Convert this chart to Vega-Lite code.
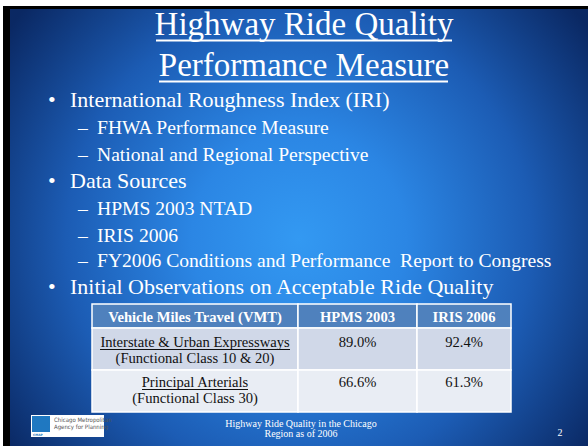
{
  "$schema": "https://vega.github.io/schema/vega-lite/v6.json",
  "width": 588,
  "height": 446,
  "padding": 0,
  "autosize": {"type": "fit", "contains": "padding"},
  "background": "white",
  "config": {"view": {"stroke": null}},
  "resolve": {"scale": {"fill": "independent"}},
  "datasets": {
    "panels": [
      {"part": "border", "x": 3, "x2": 588, "y": 6, "y2": 446},
      {"part": "slide", "x": 10, "x2": 588, "y": 9, "y2": 446}
    ],
    "titles": [
      {"t": "Highway Ride Quality", "x": 304, "y": 35},
      {"t": "Performance Measure", "x": 304, "y": 76}
    ],
    "lines": [
      {"kind": "title", "x": 156, "x2": 452, "y": 40.5},
      {"kind": "title", "x": 159, "x2": 448, "y": 81.5},
      {"kind": "cell", "x": 100, "x2": 290, "y": 349.5},
      {"kind": "cell", "x": 142, "x2": 248, "y": 389.5}
    ],
    "outline": [
      {"level": 1, "t": "•", "x": 48, "y": 107},
      {"level": 1, "t": "International Roughness Index (IRI)", "x": 70, "y": 107},
      {"level": 2, "t": "–", "x": 78, "y": 134},
      {"level": 2, "t": "FHWA Performance Measure", "x": 97, "y": 134},
      {"level": 2, "t": "–", "x": 78, "y": 161},
      {"level": 2, "t": "National and Regional Perspective", "x": 97, "y": 161},
      {"level": 1, "t": "•", "x": 48, "y": 188},
      {"level": 1, "t": "Data Sources", "x": 70, "y": 188},
      {"level": 2, "t": "–", "x": 78, "y": 215},
      {"level": 2, "t": "HPMS 2003 NTAD", "x": 97, "y": 215},
      {"level": 2, "t": "–", "x": 78, "y": 242},
      {"level": 2, "t": "IRIS 2006", "x": 97, "y": 242},
      {"level": 2, "t": "–", "x": 78, "y": 267},
      {"level": 2, "t": "FY2006 Conditions and Performance\u00a0 Report to Congress", "x": 97, "y": 267},
      {"level": 1, "t": "•", "x": 48, "y": 294},
      {"level": 1, "t": "Initial Observations on Acceptable Ride Quality", "x": 70, "y": 294}
    ],
    "cells": [
      {"row": "head", "x": 92, "x2": 298, "y": 304, "y2": 328},
      {"row": "head", "x": 298, "x2": 417, "y": 304, "y2": 328},
      {"row": "head", "x": 417, "x2": 511, "y": 304, "y2": 328},
      {"row": "r1", "x": 92, "x2": 298, "y": 328, "y2": 370},
      {"row": "r1", "x": 298, "x2": 417, "y": 328, "y2": 370},
      {"row": "r1", "x": 417, "x2": 511, "y": 328, "y2": 370},
      {"row": "r2", "x": 92, "x2": 298, "y": 370, "y2": 412},
      {"row": "r2", "x": 298, "x2": 417, "y": 370, "y2": 412},
      {"row": "r2", "x": 417, "x2": 511, "y": 370, "y2": 412}
    ],
    "celltext": [
      {"row": "head", "t": "Vehicle Miles Travel (VMT)", "x": 195, "y": 322},
      {"row": "head", "t": "HPMS 2003", "x": 357.5, "y": 322},
      {"row": "head", "t": "IRIS 2006", "x": 464, "y": 322},
      {"row": "r1", "t": "Interstate & Urban Expressways", "x": 195, "y": 347},
      {"row": "r1", "t": "(Functional Class 10 & 20)", "x": 195, "y": 363},
      {"row": "r1", "t": "89.0%", "x": 357.5, "y": 347},
      {"row": "r1", "t": "92.4%", "x": 464, "y": 347},
      {"row": "r2", "t": "Principal Arterials", "x": 195, "y": 387},
      {"row": "r2", "t": "(Functional Class 30)", "x": 195, "y": 403},
      {"row": "r2", "t": "66.6%", "x": 357.5, "y": 387},
      {"row": "r2", "t": "61.3%", "x": 464, "y": 387}
    ],
    "footer": [
      {"part": "caption", "t": "Highway Ride Quality in the Chicago", "x": 301, "y": 427},
      {"part": "caption", "t": "Region as of 2006", "x": 301, "y": 437},
      {"part": "page", "t": "2", "x": 560, "y": 436}
    ],
    "logo": [
      {"part": "box", "x": 31, "x2": 104, "y": 415, "y2": 437},
      {"part": "mark", "x": 32, "x2": 50, "y": 416, "y2": 432}
    ],
    "logotext": [
      {"part": "name", "t": "Chicago Metropolitan", "x": 54, "y": 422},
      {"part": "name", "t": "Agency for Planning", "x": 54, "y": 429},
      {"part": "abbr", "t": "CMAP", "x": 33, "y": 436}
    ]
  },
  "encoding": {
    "x": {"field": "x", "type": "quantitative", "scale": {"domain": [0, 588], "nice": false, "zero": false}, "axis": null},
    "y": {"field": "y", "type": "quantitative", "scale": {"domain": [0, 446], "nice": false, "zero": false, "reverse": true}, "axis": null}
  },
  "layer": [
    {
      "data": {"name": "panels"},
      "transform": [{"filter": "datum.part == 'border'"}],
      "mark": {"type": "rect", "fill": "#000000"},
      "encoding": {"x2": {"field": "x2"}, "y2": {"field": "y2"}}
    },
    {
      "data": {"name": "panels"},
      "transform": [{"filter": "datum.part == 'slide'"}],
      "mark": {
        "type": "rect",
        "fill": {
          "gradient": "radial",
          "x1": 0.5, "y1": 0.52, "r1": 0,
          "x2": 0.5, "y2": 0.52, "r2": 0.62,
          "stops": [
            {"offset": 0, "color": "#3399f2"},
            {"offset": 0.3, "color": "#2b86e4"},
            {"offset": 0.65, "color": "#1c5cb4"},
            {"offset": 1, "color": "#0a2863"}
          ]
        }
      },
      "encoding": {"x2": {"field": "x2"}, "y2": {"field": "y2"}}
    },
    {
      "data": {"name": "titles"},
      "mark": {"type": "text", "font": "Liberation Serif", "fontSize": 33, "color": "#ffffff", "align": "center", "baseline": "alphabetic"},
      "encoding": {"text": {"field": "t"}}
    },
    {
      "data": {"name": "lines"},
      "transform": [{"filter": "datum.kind == 'title'"}],
      "mark": {"type": "rule", "color": "#ffffff", "strokeWidth": 2},
      "encoding": {"x2": {"field": "x2"}}
    },
    {
      "data": {"name": "outline"},
      "transform": [{"filter": "datum.level == 1"}],
      "mark": {"type": "text", "font": "Liberation Serif", "fontSize": 22, "color": "#ffffff", "align": "left", "baseline": "alphabetic"},
      "encoding": {"text": {"field": "t"}}
    },
    {
      "data": {"name": "outline"},
      "transform": [{"filter": "datum.level == 2"}],
      "mark": {"type": "text", "font": "Liberation Serif", "fontSize": 19.6, "color": "#ffffff", "align": "left", "baseline": "alphabetic"},
      "encoding": {"text": {"field": "t"}}
    },
    {
      "data": {"name": "cells"},
      "mark": {"type": "rect", "stroke": "#ffffff", "strokeWidth": 1.5},
      "encoding": {
        "x2": {"field": "x2"},
        "y2": {"field": "y2"},
        "fill": {"field": "row", "type": "nominal", "scale": {"domain": ["head", "r1", "r2"], "range": ["#4F81BD", "#D0D8E8", "#E9EDF4"]}, "legend": null}
      }
    },
    {
      "data": {"name": "celltext"},
      "transform": [{"filter": "datum.row == 'head'"}],
      "mark": {"type": "text", "font": "Liberation Serif", "fontSize": 14.6, "fontWeight": "bold", "color": "#ffffff", "align": "center", "baseline": "alphabetic"},
      "encoding": {"text": {"field": "t"}}
    },
    {
      "data": {"name": "celltext"},
      "transform": [{"filter": "datum.row != 'head'"}],
      "mark": {"type": "text", "font": "Liberation Serif", "fontSize": 14.6, "color": "#111111", "align": "center", "baseline": "alphabetic"},
      "encoding": {"text": {"field": "t"}}
    },
    {
      "data": {"name": "lines"},
      "transform": [{"filter": "datum.kind == 'cell'"}],
      "mark": {"type": "rule", "color": "#111111", "strokeWidth": 1},
      "encoding": {"x2": {"field": "x2"}}
    },
    {
      "data": {"name": "footer"},
      "transform": [{"filter": "datum.part == 'caption'"}],
      "mark": {"type": "text", "font": "Liberation Serif", "fontSize": 10, "color": "#ffffff", "align": "center", "baseline": "alphabetic"},
      "encoding": {"text": {"field": "t"}}
    },
    {
      "data": {"name": "footer"},
      "transform": [{"filter": "datum.part == 'page'"}],
      "mark": {"type": "text", "font": "Liberation Serif", "fontSize": 10, "color": "#ffffff", "align": "center", "baseline": "alphabetic"},
      "encoding": {"text": {"field": "t"}}
    },
    {
      "data": {"name": "logo"},
      "mark": {"type": "rect"},
      "encoding": {
        "x2": {"field": "x2"},
        "y2": {"field": "y2"},
        "fill": {"field": "part", "type": "nominal", "scale": {"domain": ["box", "mark"], "range": ["#ffffff", "#1f78c1"]}, "legend": null}
      }
    },
    {
      "data": {"name": "logotext"},
      "transform": [{"filter": "datum.part == 'name'"}],
      "mark": {"type": "text", "font": "Liberation Sans Narrow, DejaVu Sans Condensed, sans-serif", "fontSize": 6, "color": "#555555", "align": "left", "baseline": "alphabetic"},
      "encoding": {"text": {"field": "t"}}
    },
    {
      "data": {"name": "logotext"},
      "transform": [{"filter": "datum.part == 'abbr'"}],
      "mark": {"type": "text", "font": "DejaVu Sans", "fontSize": 3, "fontWeight": "bold", "color": "#1f78c1", "align": "left", "baseline": "alphabetic"},
      "encoding": {"text": {"field": "t"}}
    }
  ]
}
